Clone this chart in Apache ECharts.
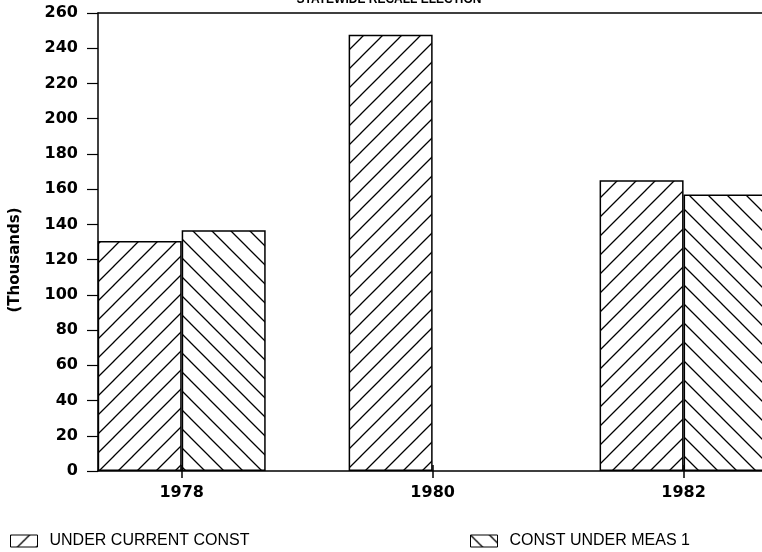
<!DOCTYPE html>
<html>
<head>
<meta charset="utf-8">
<script src="https://cdn.jsdelivr.net/npm/echarts@6/dist/echarts.min.js"></script>
<style>
html,body{margin:0;padding:0;background:#fff;}
#chart{width:762px;height:552px;}
</style>
</head>
<body>
<div id="chart"></div>
<script>
// ---- data ----
const titleText = 'STATEWIDE RECALL ELECTION';
const years = [1978, 1980, 1982];
const underCurrentConst = [130.6, 247.7, 165.1];
const constUnderMeas1 = [136.7, null, 157.0];
const seriesNames = ['UNDER CURRENT CONST', 'CONST UNDER MEAS 1'];
const yAxisName = '(Thousands)';

// ---- hatch patterns ----
function makeHatch(forward) {
  const s = 19;
  const c = document.createElement('canvas');
  c.width = s; c.height = s;
  const g = c.getContext('2d');
  g.fillStyle = '#fff';
  g.fillRect(0, 0, s, s);
  g.strokeStyle = '#000';
  g.lineWidth = 1.3;
  g.beginPath();
  for (let k = -1; k <= 1; k++) {
    if (forward) {
      g.moveTo(k * s - 1, s + 1);
      g.lineTo(k * s + s + 1, -1);
    } else {
      g.moveTo(k * s - 1, -1);
      g.lineTo(k * s + s + 1, s + 1);
    }
  }
  g.stroke();
  return c;
}
const hatchA = { image: makeHatch(true), repeat: 'repeat' };
const hatchB = { image: makeHatch(false), repeat: 'repeat' };

const dataA = years.map((y, i) => [y, underCurrentConst[i]]).filter(d => d[1] != null);
const dataB = years.map((y, i) => [y, constUnderMeas1[i]]).filter(d => d[1] != null);

const xMin = 1977.333, xMax = 1982.625;
const chart = echarts.init(document.getElementById('chart'), null, { renderer: 'canvas' });
const boldFont = 'DejaVu Sans';
const legendText = { fontFamily: 'Liberation Sans', fontSize: 16, color: '#000', padding: [0, 0, 0, 7] };
chart.setOption({
  animation: false,
  backgroundColor: '#fff',
  title: {
    text: titleText,
    left: 384, top: -11, textAlign: 'center',
    textStyle: { fontFamily: 'Liberation Sans', fontWeight: 'bold', fontSize: 12, color: '#000' }
  },
  graphic: [{
    type: 'text', x: 15, y: 260, rotation: Math.PI / 2,
    style: {
      text: yAxisName, align: 'center', verticalAlign: 'middle',
      font: 'bold 15px "DejaVu Sans"', fill: '#000'
    }
  }],
  grid: { left: 98, top: 13, right: 0, bottom: 81 },
  legend: [
    {
      data: [seriesNames[0]], left: 10, top: 533, padding: 0, icon: 'rect',
      itemWidth: 27, itemHeight: 12, itemGap: 0, textStyle: legendText,
      itemStyle: { borderColor: '#000', borderWidth: 1 }
    },
    {
      data: [seriesNames[1]], left: 470, top: 533, padding: 0, icon: 'rect',
      itemWidth: 27, itemHeight: 12, itemGap: 0, textStyle: legendText,
      itemStyle: { borderColor: '#000', borderWidth: 1 }
    }
  ],
  xAxis: [
    {
      type: 'value', min: xMin, max: xMax, position: 'bottom',
      splitLine: { show: false },
      axisLine: { show: true, onZero: false, lineStyle: { color: '#000', width: 1.5 } },
      axisTick: { show: true, customValues: years, length: 7, lineStyle: { color: '#000', width: 1.5 } },
      axisLabel: {
        customValues: years, formatter: v => String(v), margin: 14,
        fontFamily: boldFont, fontWeight: 'bold', fontSize: 16, color: '#000'
      }
    },
    {
      type: 'value', min: xMin, max: xMax, position: 'top',
      splitLine: { show: false },
      axisLine: { show: true, onZero: false, lineStyle: { color: '#000', width: 1.5 } },
      axisTick: { show: false }, axisLabel: { show: false }
    },
    {
      type: 'value', min: xMin, max: xMax, position: 'bottom', offset: 0,
      splitLine: { show: false },
      axisLine: { show: false },
      axisTick: { show: true, inside: true, customValues: years, length: 6, lineStyle: { color: '#000', width: 1.5 } },
      axisLabel: { show: false }
    }
  ],
  yAxis: {
    type: 'value', min: 0, max: 260, interval: 20,
    splitLine: { show: false },
    axisLine: { show: true, lineStyle: { color: '#000', width: 1.5 } },
    axisTick: { show: true, length: 11, lineStyle: { color: '#000', width: 1.2 } },
    axisLabel: { margin: 20, fontFamily: boldFont, fontWeight: 'bold', fontSize: 16, color: '#000' }
  },
  series: [
    {
      name: seriesNames[0], type: 'bar', data: dataA, barWidth: 84, barGap: '0%', xAxisIndex: 0,
      itemStyle: { color: hatchA, borderColor: '#000', borderWidth: 1.5 }
    },
    {
      name: seriesNames[1], type: 'bar', data: dataB, barWidth: 84, barGap: '0%', xAxisIndex: 0,
      itemStyle: { color: hatchB, borderColor: '#000', borderWidth: 1.5 }
    }
  ]
});
</script>
</body>
</html>
